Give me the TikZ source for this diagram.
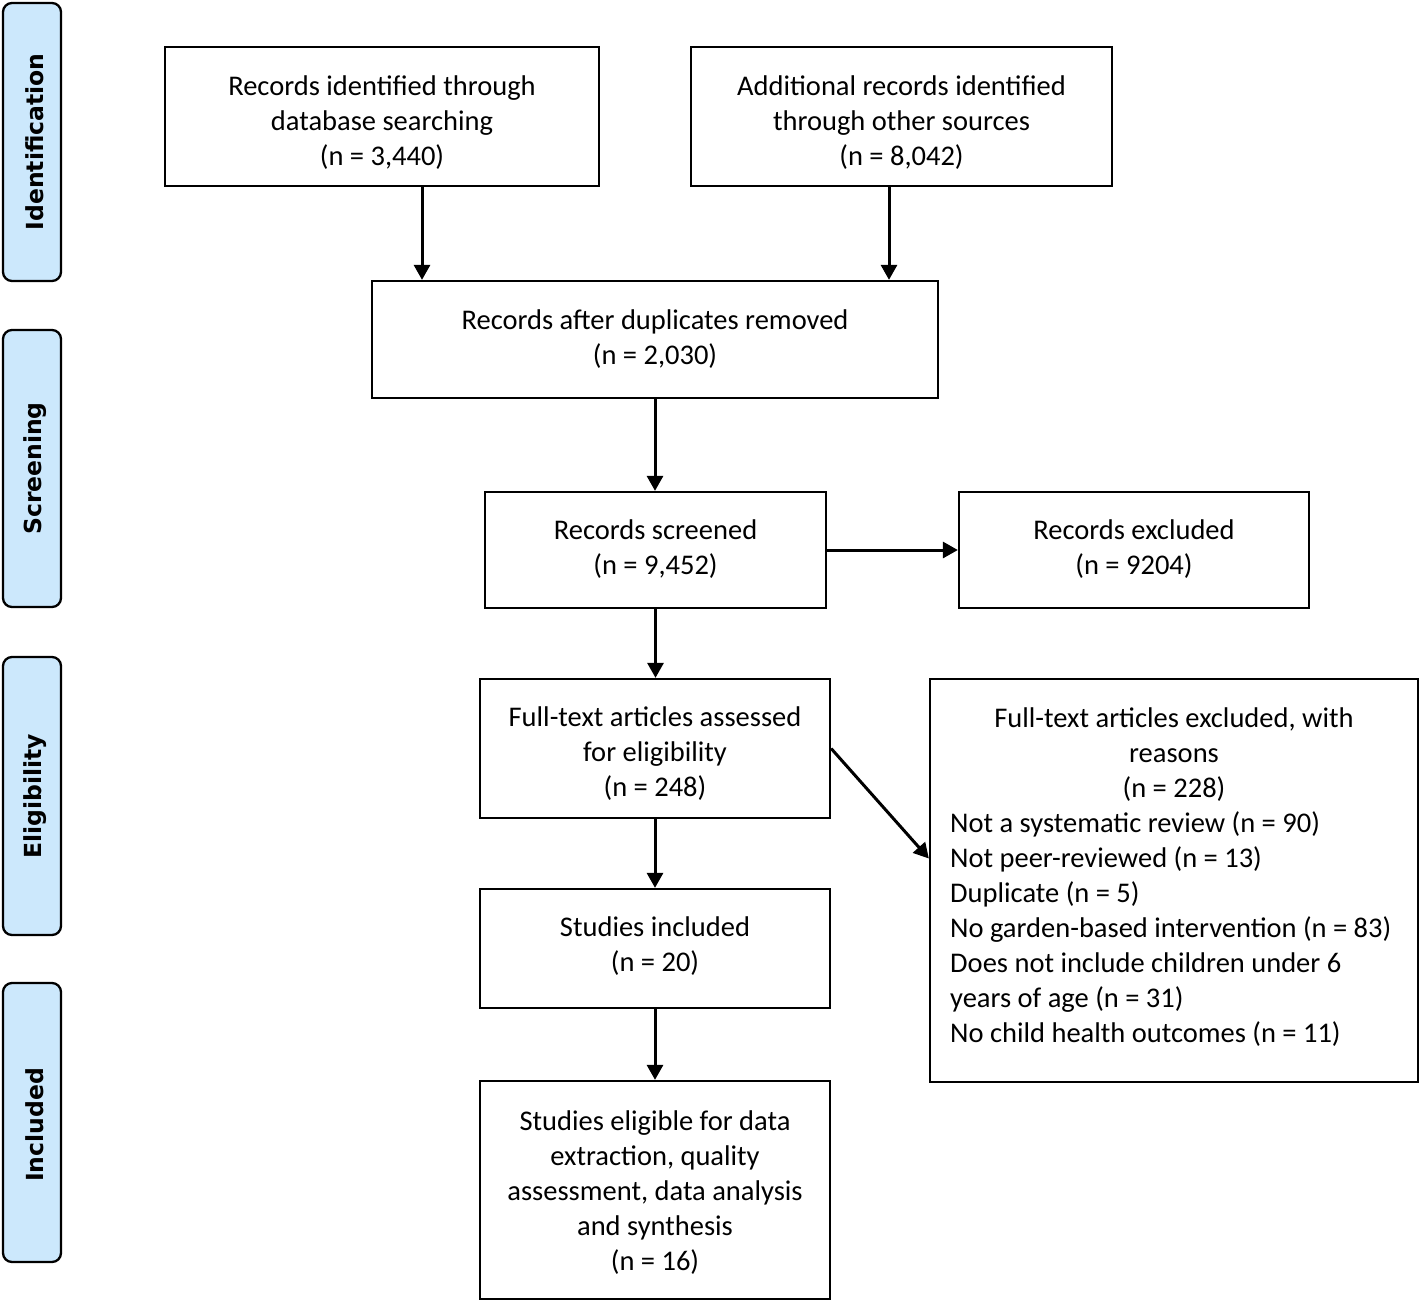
\documentclass[tikz,border=0pt]{standalone}
\usepackage{fontspec}
\setmainfont{Carlito}
\newfontfamily\sidefont{DejaVu Sans}
\usetikzlibrary{arrows.meta}
\definecolor{sideblue}{RGB}{204,232,252}
\tikzset{
  stagebox/.style={draw=black, line width=2.3pt, rounded corners=9pt, fill=sideblue,
    minimum width=58pt, inner sep=0pt},
  stagetext/.style={font=\sidefont\bfseries\fontsize{23.5}{28}\selectfont, rotate=90},
  flowbox/.style={draw=black, line width=2.3pt, inner sep=0pt},
  flowtext/.style={align=center, inner sep=0pt, font=\fontsize{28.5}{35}\selectfont},
  arr/.style={line width=3pt, -{Triangle[length=15pt,width=16pt]}},
}
\begin{document}
\begin{tikzpicture}[x=1pt,y=-1pt]
\useasboundingbox (0,0) rectangle (1420,1301);

% stage labels
\node[stagebox, minimum height=278pt] (sid) at (32,142) {};
\node[stagetext] (tid) at (35,142) {Identification};
\node[stagebox, minimum height=277pt] (sscr) at (32,468.5) {};
\node[stagetext] (tscr) at (35,468.5) {Screening};
\node[stagebox, minimum height=278pt] (sel) at (32,796) {};
\node[stagetext] (tel) at (35,796) {Eligibility};
\node[stagebox, minimum height=279pt] (sinc) at (32,1122.5) {};
\node[stagetext] (tinc) at (35,1125) {Included};

% flow boxes
\node[flowbox, minimum width=434pt, minimum height=139pt] (b1) at (382,116.5) {};
\node[flowtext] (t1) at (382,123)
  {Records identified through\\database searching\\(n = 3,440)};
\node[flowbox, minimum width=421pt, minimum height=139pt] (b2) at (901.5,116.5) {};
\node[flowtext] (t2) at (901.5,123)
  {Additional records identified\\through other sources\\(n = 8,042)};
\node[flowbox, minimum width=566pt, minimum height=117pt] (b3) at (655,339.5) {};
\node[flowtext] (t3) at (655,339.5)
  {Records after duplicates removed\\(n = 2,030)};
\node[flowbox, minimum width=341pt, minimum height=116pt] (b4) at (655.5,550) {};
\node[flowtext] (t4) at (655.5,549.5)
  {Records screened\\(n = 9,452)};
\node[flowbox, minimum width=350pt, minimum height=116pt] (b5) at (1134,550) {};
\node[flowtext] (t5) at (1134,549.5)
  {Records excluded\\(n = 9204)};
\node[flowbox, minimum width=350pt, minimum height=139pt] (b6) at (655,748.5) {};
\node[flowtext] (t6) at (655,754)
  {Full-text articles assessed\\for eligibility\\(n = 248)};
\node[flowbox, minimum width=488pt, minimum height=403pt] (b7) at (1174,880.5) {};
\node[flowtext] (t7a) at (1174,755)
  {Full-text articles excluded, with\\reasons\\(n = 228)};
\node[flowtext, align=left, anchor=west] (t7b) at (950,929)
  {Not a systematic review (n = 90)\\
   Not peer-reviewed (n = 13)\\
   Duplicate (n = 5)\\
   No garden-based intervention (n = 83)\\
   Does not include children under 6\\
   years of age (n = 31)\\
   No child health outcomes (n = 11)};
\node[flowbox, minimum width=350pt, minimum height=119pt] (b8) at (655,948.5) {};
\node[flowtext] (t8) at (655,946.5)
  {Studies included\\(n = 20)};
\node[flowbox, minimum width=350pt, minimum height=218pt] (b9) at (655,1190) {};
\node[flowtext] (t9) at (655,1192.5)
  {Studies eligible for data\\extraction, quality\\assessment, data analysis\\and synthesis\\(n = 16)};

% connectors
\draw[arr] ([xshift=40pt]b1.south) -- ([xshift=40pt]b1.south |- b3.north);
\draw[arr] ([xshift=-12.5pt]b2.south) -- ([xshift=-12.5pt]b2.south |- b3.north);
\draw[arr] (b3.south) -- (b3.south |- b4.north);
\draw[arr] (b4.east) -- (b4.east -| b5.west);
\draw[arr] (b4.south) -- (b4.south |- b6.north);
\draw[arr] (b6.east) -- ([yshift=22pt]b7.west);
\draw[arr] (b6.south) -- (b8.north);
\draw[arr] (b8.south) -- (b9.north);
\end{tikzpicture}
\end{document}
